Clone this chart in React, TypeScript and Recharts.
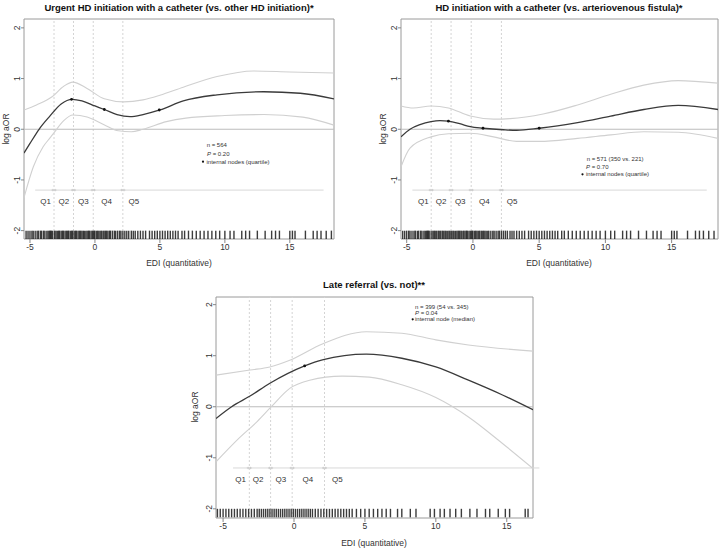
import React from "react";
import {
  ComposedChart,
  Line,
  Scatter,
  XAxis,
  YAxis,
  ReferenceLine,
  ReferenceArea,
} from "recharts";

const FONT = "'Liberation Sans', Arial, Helvetica, sans-serif";

// ---------- data ----------
const xTicks = [-5, 0, 5, 10, 15];
const yTicks = [-2, -1, 0, 1, 2];
const quantileCuts = [-3.15, -1.65, -0.13, 2.15];
const qNames = ["Q1", "Q2", "Q3", "Q4", "Q5"];

// panel 1: Urgent HD initiation with a catheter
const p1Est = [[-5.46,-0.47],[-5,-0.28],[-4.3,0],[-3.5,0.25],[-2.6,0.5],[-1.75,0.59],[-1,0.56],[0,0.46],[0.72,0.39],[1.7,0.29],[2.7,0.25],[3.7,0.29],[5,0.38],[6.8,0.56],[9.4,0.68],[13,0.74],[15.8,0.71],[18.4,0.6]];
const p1Hi = [[-5.46,0.38],[-4.5,0.48],[-3.3,0.64],[-2.4,0.85],[-1.7,0.93],[-0.64,0.81],[0.72,0.6],[2.2,0.54],[3.7,0.58],[5,0.67],[6.8,0.83],[9.4,1.04],[12.2,1.15],[15,1.13],[18.4,1.11]];
const p1Lo = [[-5.46,-1.35],[-4.74,-0.74],[-4,-0.35],[-3.46,-0.17],[-3.1,-0.05],[-2.4,0.17],[-1.7,0.28],[-0.6,0.24],[0.7,0.09],[1.8,-0.03],[2.8,-0.05],[3.7,0],[5.5,0.15],[7,0.22],[10,0.27],[13,0.29],[16,0.24],[18.4,0.08]];
const p1Nodes = [[-1.8,0.59],[0.72,0.39],[4.95,0.38]];
const p1QPos = [-3.8,-2.4,-0.9,0.9,3.0];

// panel 2: HD initiation with a catheter vs AVF
const p2Est = [[-5.43,-0.15],[-4.75,0],[-4,0.09],[-3.16,0.15],[-2.5,0.17],[-1.85,0.16],[-1,0.11],[-0.2,0.05],[0.76,0.02],[2.3,-0.01],[3.3,-0.02],[5,0.02],[7.9,0.13],[10.4,0.26],[12.9,0.39],[15.5,0.47],[18.5,0.39]];
const p2Hi = [[-5.43,0.46],[-4.5,0.42],[-3.16,0.46],[-1.85,0.42],[-0.2,0.26],[1.56,0.2],[2.8,0.21],[5.3,0.3],[7.9,0.48],[10.4,0.69],[12.9,0.87],[15.5,0.96],[18.5,0.91]];
const p2Lo = [[-5.43,-0.74],[-4.75,-0.37],[-3.16,-0.15],[-1.85,-0.09],[-0.2,-0.08],[1.56,-0.15],[3.3,-0.24],[5,-0.24],[7.9,-0.18],[10.4,-0.11],[12.9,-0.05],[15.5,-0.06],[18.5,-0.18]];
const p2Nodes = [[-1.85,0.16],[0.76,0.02],[5.0,0.02]];
const p2QPos = [-3.74,-2.4,-0.96,0.86,2.95];

// panel 3: Late referral
const p3Est = [[-5.5,-0.23],[-4.4,0],[-3.1,0.21],[-1.7,0.46],[0.75,0.8],[2,0.92],[5.1,1.03],[7.6,0.95],[10,0.78],[12.3,0.52],[14.7,0.23],[16.85,-0.06]];
const p3Hi = [[-5.5,0.62],[-3.1,0.72],[-1.7,0.78],[-0.3,0.91],[2,1.23],[5.1,1.47],[7.6,1.44],[10,1.31],[12.3,1.21],[16.85,1.09]];
const p3Lo = [[-5.5,-1.08],[-4,-0.65],[-2.6,-0.29],[-1.6,0],[-0.3,0.36],[1.1,0.52],[3.4,0.6],[5.3,0.58],[7.6,0.43],[10,0.18],[12.3,-0.2],[14.7,-0.72],[16.85,-1.21]];
const p3Nodes = [[0.75,0.8]];
const p3QPos = [-3.76,-2.53,-0.93,0.98,3.05];

// rug (observed EDI values)
const rugA = [-5.3,-5.15,-5.0,-4.85,-4.75,-4.6,-4.45,-4.35,-4.2,-4.1,-3.95,-3.85,-3.7,-3.6,-3.5,-3.42,-3.35,-3.25,-3.1,-3.0,-2.9,-2.8,-2.72,-2.6,-2.5,-2.42,-2.3,-2.2,-2.1,-2.02,-1.9,-1.8,-1.72,-1.6,-1.5,-1.42,-1.3,-1.2,-1.1,-1.0,-0.9,-0.82,-0.7,-0.6,-0.5,-0.42,-0.3,-0.2,-0.1,-0.02,0.1,0.2,0.3,0.4,0.5,0.62,0.7,0.8,0.9,1.0,1.12,1.2,1.35,1.5,1.6,1.75,1.9,2.0,2.15,2.3,2.45,2.6,2.8,2.95,3.1,3.3,3.5,3.7,3.9,4.2,4.4,4.6,4.8,5.0,5.2,5.4,5.6,5.8,6.0,6.2,6.4,6.7,6.9,7.2,7.5,7.8,8.1,8.4,8.7,9.0,9.3,9.6,10.0,10.4,10.7,11.3,11.6,11.9,12.5,13.1,13.6,13.9,14.2,15.0,15.2,15.4,16.2,16.8,17.1,17.4,17.8,18.2];
const rugB = [-5.4,-5.2,-5.0,-4.8,-4.6,-4.4,-4.2,-4.0,-3.8,-3.6,-3.4,-3.2,-3.0,-2.8,-2.6,-2.45,-2.3,-2.15,-2.0,-1.85,-1.7,-1.55,-1.4,-1.25,-1.1,-0.95,-0.8,-0.65,-0.5,-0.35,-0.2,-0.05,0.1,0.25,0.4,0.55,0.7,0.85,1.0,1.15,1.3,1.5,1.7,1.9,2.1,2.3,2.5,2.7,2.9,3.1,3.3,3.5,3.7,3.9,4.1,4.4,4.7,5.0,5.3,5.6,5.9,6.2,6.5,6.8,7.3,7.6,8.2,8.6,9.6,9.9,10.3,10.6,11.0,11.4,11.8,12.4,12.9,13.5,13.8,14.4,14.9,15.2,16.3,16.5];

const toPts = (arr: number[][]) => arr.map(([x, y]) => ({ x, y }));

const YTick = (props: any) => {
  const { x, y, payload } = props;
  return (
    <text
      x={x}
      y={y}
      transform={`rotate(-90 ${x} ${y})`}
      textAnchor="middle"
      fontSize={8.5}
      fill="#333"
      fontFamily={FONT}
    >
      {payload.value}
    </text>
  );
};

const RugShape = (props: any) => {
  const { cx, cy } = props;
  return <line x1={cx} x2={cx} y1={cy} y2={cy + 8.5} stroke="#1a1a1a" strokeOpacity={0.85} strokeWidth={1.4} />;
};
const NodeShape = (props: any) => <circle cx={props.cx} cy={props.cy} r={1.4} fill="#111" />;
const MarkShape = (props: any) => (
  <g stroke="#c8c8c8" strokeWidth={0.8}>
    <line x1={props.cx - 2.5} x2={props.cx + 2.5} y1={props.cy} y2={props.cy} />
    <line x1={props.cx - 1.2} x2={props.cx - 1.2} y1={props.cy - 1.2} y2={props.cy + 1.2} />
    <line x1={props.cx + 1.2} x2={props.cx + 1.2} y1={props.cy - 1.2} y2={props.cy + 1.2} />
  </g>
);
const QShape = (props: any) => (
  <text
    x={props.cx}
    y={props.cy}
    textAnchor="middle"
    dominantBaseline="central"
    fontSize={8}
    fill="#333"
    style={{ fill: "#333" }}
    fontFamily={FONT}
  >
    {props.payload.t}
  </text>
);

type PanelCfg = {
  left: number; top: number; w: number; h: number;
  margin: { top: number; right: number; bottom: number; left: number };
  yWidth: number;
  xDomain: [number, number];
  yDomain: [number, number];
  est: number[][]; hi: number[][]; lo: number[][]; nodes: number[][];
  qPos: number[]; rug: number[]; hLine: [number, number];
};

const panels: PanelCfg[] = [
  { left: 0, top: 0, w: 360, h: 270, margin: { top: 19, right: 26, bottom: 0, left: 0 }, yWidth: 24,
    xDomain: [-5.46, 18.4], yDomain: [-2.165, 2.175], est: p1Est, hi: p1Hi, lo: p1Lo, nodes: p1Nodes, qPos: p1QPos, rug: rugA, hLine: [-4.6, 17.6] },
  { left: 360, top: 0, w: 360, h: 270, margin: { top: 19, right: 2, bottom: 0, left: 0 }, yWidth: 41,
    xDomain: [-5.43, 18.5], yDomain: [-2.165, 2.175], est: p2Est, hi: p2Hi, lo: p2Lo, nodes: p2Nodes, qPos: p2QPos, rug: rugA, hLine: [-4.57, 17.65] },
  { left: 190, top: 270, w: 360, h: 279, margin: { top: 27, right: 17, bottom: 0, left: 0 }, yWidth: 26,
    xDomain: [-5.5, 16.85], yDomain: [-2.18, 2.15], est: p3Est, hi: p3Hi, lo: p3Lo, nodes: p3Nodes, qPos: p3QPos, rug: rugB, hLine: [-4.3, 17.3] },
];

function Panel({ c }: { c: PanelCfg }) {
  const qData = c.qPos.map((x, i) => ({ x, y: -1.42, t: qNames[i] }));
  const markData = quantileCuts.map((x) => ({ x, y: -1.2 }));
  const rugData = c.rug.map((x) => ({ x, y: -2 }));
  return (
    <div style={{ position: "absolute", left: c.left, top: c.top }}>
      <ComposedChart width={c.w} height={c.h} margin={c.margin}>
        <XAxis
          type="number"
          dataKey="x"
          domain={c.xDomain}
          ticks={xTicks}
          interval={0}
          allowDataOverflow
          height={31}
          tickSize={4}
          tickMargin={1}
          axisLine={false}
          tickLine={{ stroke: "#888" }}
          tick={{ fontSize: 8.5, fill: "#333", fontFamily: FONT }}
        />
        <YAxis
          type="number"
          dataKey="y"
          domain={c.yDomain}
          ticks={yTicks}
          interval={0}
          allowDataOverflow
          width={c.yWidth}
          tickSize={3}
          tickMargin={1}
          axisLine={false}
          tickLine={{ stroke: "#888" }}
          tick={<YTick />}
        />
        {quantileCuts.map((q) => (
          <ReferenceLine key={q} x={q} stroke="#d4d4d4" strokeDasharray="2 2" strokeWidth={1} />
        ))}
        <ReferenceLine y={0} stroke="#bdbdbd" strokeWidth={1.2} />
        <ReferenceLine
          segment={[{ x: c.hLine[0], y: -1.2 }, { x: c.hLine[1], y: -1.2 }]}
          stroke="#d8d8d8"
          strokeWidth={1}
          ifOverflow="visible"
        />
        <Line data={toPts(c.hi)} dataKey="y" type="monotone" stroke="#d0d0d0" strokeWidth={1.1} dot={false} isAnimationActive={false} />
        <Line data={toPts(c.lo)} dataKey="y" type="monotone" stroke="#d0d0d0" strokeWidth={1.1} dot={false} isAnimationActive={false} />
        <Line data={toPts(c.est)} dataKey="y" type="monotone" stroke="#3a3a3a" strokeWidth={1.3} dot={false} isAnimationActive={false} />
        <Scatter data={toPts(c.nodes)} shape={<NodeShape />} isAnimationActive={false} />
        <Scatter data={markData} shape={<MarkShape />} isAnimationActive={false} />
        <Scatter data={qData} shape={<QShape />} isAnimationActive={false} />
        <Scatter data={rugData} shape={<RugShape />} isAnimationActive={false} />
        <ReferenceArea
          x1={c.xDomain[0]}
          x2={c.xDomain[1]}
          y1={c.yDomain[0]}
          y2={c.yDomain[1]}
          fill="none"
          fillOpacity={0}
          stroke="#9a9a9a"
          strokeWidth={1}
        />
      </ComposedChart>
    </div>
  );
}

export default function App() {
  const ann = { fontSize: 6, fill: "#333", fontFamily: FONT } as const;
  const title = { fontSize: 9.5, fontWeight: 700, fill: "#111", fontFamily: FONT, textAnchor: "middle" } as const;
  const axl = { fontSize: 8.5, fill: "#333", fontFamily: FONT, textAnchor: "middle" } as const;
  return (
    <div style={{ position: "absolute", left: 0, top: 0, width: 720, height: 549, background: "#fff", fontFamily: FONT }}>
      {panels.map((c, i) => (
        <Panel key={i} c={c} />
      ))}
      <svg width={720} height={549} style={{ position: "absolute", left: 0, top: 0, pointerEvents: "none" }}>
        <text x={179} y={7} dominantBaseline="central" {...title}>Urgent HD initiation with a catheter (vs. other HD initiation)*</text>
        <text x={559} y={7} dominantBaseline="central" {...title}>HD initiation with a catheter (vs. arteriovenous fistula)*</text>
        <text x={374} y={284} dominantBaseline="central" {...title}>Late referral (vs. not)**</text>

        <text x={179} y={263} dominantBaseline="central" {...axl}>EDI (quantitative)</text>
        <text x={559} y={263} dominantBaseline="central" {...axl}>EDI (quantitative)</text>
        <text x={374} y={543} dominantBaseline="central" {...axl}>EDI (quantitative)</text>

        <text x={6} y={129} dominantBaseline="central" transform="rotate(-90 6 129)" {...axl}>log aOR</text>
        <text x={383} y={129} dominantBaseline="central" transform="rotate(-90 383 129)" {...axl}>log aOR</text>
        <text x={195} y={407} dominantBaseline="central" transform="rotate(-90 195 407)" {...axl}>log aOR</text>

        <text x={206.7} y={145} dominantBaseline="central" {...ann}>n = 564</text>
        <text x={207} y={154} dominantBaseline="central" {...ann}><tspan fontStyle="italic">P</tspan> = 0.20</text>
        <circle cx={203} cy={161.7} r={1.1} fill="#111" />
        <text x={206.5} y={161.7} dominantBaseline="central" {...ann}>internal nodes (quartile)</text>

        <text x={586.7} y={159.3} dominantBaseline="central" {...ann}>n = 571 (350 vs. 221)</text>
        <text x={586} y={167.3} dominantBaseline="central" {...ann}><tspan fontStyle="italic">P</tspan> = 0.70</text>
        <circle cx={582.5} cy={174.3} r={1.1} fill="#111" />
        <text x={586} y={174.3} dominantBaseline="central" {...ann}>internal nodes (quartile)</text>

        <text x={415} y={307.3} dominantBaseline="central" {...ann}>n = 399 (54 vs. 345)</text>
        <text x={415} y={313.3} dominantBaseline="central" {...ann}><tspan fontStyle="italic">P</tspan> = 0.04</text>
        <circle cx={412.7} cy={319.3} r={1.1} fill="#111" />
        <text x={415} y={319.3} dominantBaseline="central" {...ann}>internal node (median)</text>
      </svg>
    </div>
  );
}
